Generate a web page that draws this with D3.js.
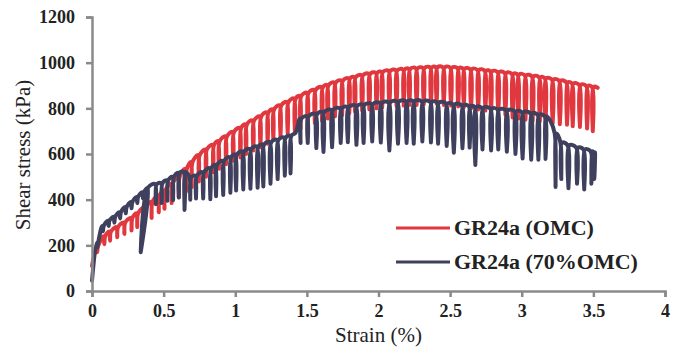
<!DOCTYPE html>
<html>
<head>
<meta charset="utf-8">
<script src="https://cdn.jsdelivr.net/npm/d3@7"></script>
<style>
  body { margin: 0; background: #fff; }
  svg text { font-family: "Liberation Serif", "Times New Roman", serif; }
</style>
</head>
<body>
<div id="chart"></div>
<script>
// cycle data: [strain %, peak stress kPa, trough stress kPa, trough strain (optional)]
var omcCycles = [
  [0, 110, null],
  [0.03, 195, 170], [0.08, 240, 205], [0.12, 260, 220], [0.17, 280, 235],
  [0.22, 300, 250], [0.27, 320, 265], [0.31, 340, 280], [0.36, 365, 300],
  [0.41, 390, 320], [0.46, 418, 345], [0.50, 440, 360], [0.55, 470, 385],
  [0.60, 500, 410], [0.65, 535, 435], [0.69, 565, 455], [0.74, 595, 480],
  [0.79, 620, 500], [0.84, 640, 520], [0.88, 657, 535], [0.93, 677, 555],
  [0.98, 697, 570], [1.03, 715, 585], [1.07, 730, 600], [1.12, 747, 615],
  [1.17, 765, 630], [1.22, 782, 645], [1.26, 796, 660], [1.31, 813, 675],
  [1.36, 828, 690], [1.41, 843, 700], [1.45, 855, 712], [1.50, 868, 725],
  [1.55, 881, 735], [1.60, 893, 745], [1.64, 902, 755], [1.69, 913, 765],
  [1.74, 922, 770], [1.79, 931, 778], [1.83, 937, 785], [1.88, 945, 790],
  [1.93, 951, 795], [1.98, 956, 800], [2.02, 960, 805], [2.07, 964, 808],
  [2.12, 967, 810], [2.17, 970, 812], [2.21, 973, 815], [2.26, 975, 815],
  [2.31, 977, 818], [2.36, 979, 818], [2.40, 980, 820], [2.45, 979, 815],
  [2.50, 978, 812], [2.55, 976, 808], [2.59, 974, 805], [2.64, 971, 800],
  [2.69, 968, 795], [2.74, 965, 790], [2.78, 962, 785], [2.83, 959, 780],
  [2.88, 955, 772], [2.93, 951, 760], [2.97, 948, 755], [3.02, 945, 750],
  [3.07, 940, 745], [3.12, 936, 742], [3.16, 932, 738], [3.21, 926, 735],
  [3.26, 921, 730], [3.31, 914, 728], [3.35, 909, 722], [3.40, 903, 718],
  [3.45, 898, 712], [3.49, 894, 700],
  [3.53, 890, null]
];

var dryCycles = [
  [0, 45, null],
  [0.03, 210, 190], [0.07, 285, 262], [0.11, 308, 285], [0.15, 325, 300],
  [0.19, 345, 318], [0.23, 368, 340], [0.27, 390, 362], [0.31, 412, 385],
  [0.35, 432, 405], [0.39, 452, 170, 0.34],
  [0.44, 468, 380], [0.48, 472, 385], [0.52, 485, 395], [0.56, 500, 398],
  [0.60, 518, 410], [0.64, 522, 355], [0.68, 498, 400], [0.72, 505, 405],
  [0.77, 520, 405], [0.82, 538, 402], [0.86, 552, 415], [0.91, 570, 420],
  [0.96, 586, 430], [1.00, 598, 440], [1.05, 611, 445], [1.10, 622, 448],
  [1.15, 633, 452], [1.19, 642, 458], [1.24, 652, 470], [1.29, 662, 490],
  [1.34, 672, 505], [1.38, 680, 515], [1.42, 692, null],
  [1.45, 755, 648], [1.50, 765, 648], [1.56, 775, 626], [1.61, 784, 609],
  [1.67, 793, 630], [1.73, 800, 648], [1.78, 806, 652], [1.84, 811, 640],
  [1.89, 815, 648], [1.95, 819, 655], [2.01, 823, 650], [2.07, 826, 615],
  [2.13, 829, 645], [2.19, 831, 648], [2.24, 832, 645], [2.30, 830, 655],
  [2.36, 828, 650], [2.41, 825, 645], [2.47, 821, 635], [2.52, 817, 605],
  [2.58, 813, 625], [2.63, 809, 628], [2.67, 806, 552], [2.72, 802, 620],
  [2.78, 798, 615], [2.83, 795, 620], [2.89, 791, 610], [2.95, 787, 600],
  [3.00, 783, 580], [3.06, 778, 575], [3.11, 772, 575], [3.16, 765, 578],
  [3.20, 745, null],
  [3.23, 690, 455], [3.27, 650, 490], [3.32, 638, 450], [3.38, 628, 470],
  [3.43, 620, 445], [3.48, 612, 470], [3.50, 608, 490],
  [3.51, 600, null]
];

var seriesNames = ["GR24a (OMC)", "GR24a (70%OMC)"];
var seriesColors = ["#e0383e", "#3f405e"];
var xTicks = [0, 0.5, 1, 1.5, 2, 2.5, 3, 3.5, 4];
var yTicks = [0, 200, 400, 600, 800, 1000, 1200];

var width = 678, height = 347;
var margin = { top: 17, right: 13, bottom: 56, left: 92 };
var innerW = width - margin.left - margin.right;
var innerH = height - margin.top - margin.bottom;

var x = d3.scaleLinear().domain([0, 4]).range([0, innerW]);
var y = d3.scaleLinear().domain([0, 1200]).range([innerH, 0]);

var svg = d3.select("#chart").append("svg")
  .attr("width", width)
  .attr("height", height);

var g = svg.append("g")
  .attr("transform", "translate(" + margin.left + "," + margin.top + ")");

// unload/reload loop: peak -> trough -> back up, slightly further along
var loopWidth = 0.006;
function cyclePoints(cycles) {
  var pts = [];
  cycles.forEach(function (c) {
    if (c[2] == null) { pts.push([c[0], c[1]]); return; }
    var ts = c[3] != null ? c[3] : c[0] + loopWidth;
    pts.push([c[0], c[1]]);
    pts.push([ts, c[2]]);
    pts.push([c[3] != null ? c[0] : c[0] + 2 * loopWidth, c[1]]);
  });
  return pts;
}

var line = d3.line()
  .curve(d3.curveCatmullRom.alpha(0.5))
  .x(function (d) { return x(d[0]); })
  .y(function (d) { return y(d[1]); });

[omcCycles, dryCycles].forEach(function (cycles, i) {
  g.append("path")
    .datum(cyclePoints(cycles))
    .attr("fill", "none")
    .attr("stroke", seriesColors[i])
    .attr("stroke-width", 4)
    .attr("stroke-linejoin", "round")
    .attr("stroke-linecap", "round")
    .attr("d", line);
});

// axes
var xAxis = g.append("g")
  .attr("transform", "translate(0," + innerH + ")")
  .call(d3.axisBottom(x).tickValues(xTicks).tickFormat(d3.format("")).tickSizeOuter(0).tickSize(6).tickPadding(7));

var yAxis = g.append("g")
  .call(d3.axisLeft(y).tickValues(yTicks).tickFormat(d3.format("d")).tickSizeOuter(0).tickSize(6).tickPadding(11));

[xAxis, yAxis].forEach(function (ax) {
  ax.select(".domain").attr("stroke", "#8a8a8a").attr("stroke-width", 2.5);
  ax.selectAll(".tick line").attr("stroke", "#8a8a8a").attr("stroke-width", 2.5);
  ax.selectAll(".tick text")
    .attr("fill", "#222")
    .style("font-family", "'Liberation Serif', serif")
    .style("font-weight", "bold")
    .style("font-size", "18px");
});

// axis titles
svg.append("text")
  .attr("x", margin.left + x(2))
  .attr("y", 342)
  .attr("text-anchor", "middle")
  .attr("fill", "#222")
  .style("font-size", "21px")
  .text("Strain (%)");

svg.append("text")
  .attr("transform", "translate(30,155) rotate(-90)")
  .attr("text-anchor", "middle")
  .attr("fill", "#222")
  .style("font-size", "21px")
  .text("Shear stress (kPa)");

// legend
var legend = svg.append("g");
seriesNames.forEach(function (name, i) {
  var ly = 228 + i * 34;
  legend.append("line")
    .attr("x1", 396).attr("x2", 450)
    .attr("y1", ly).attr("y2", ly)
    .attr("stroke", seriesColors[i])
    .attr("stroke-width", 3);
  legend.append("text")
    .attr("x", 454)
    .attr("y", ly + 7)
    .attr("fill", "#222")
    .style("font-weight", "bold")
    .style("font-size", "22px")
    .text(name);
});
</script>
</body>
</html>
